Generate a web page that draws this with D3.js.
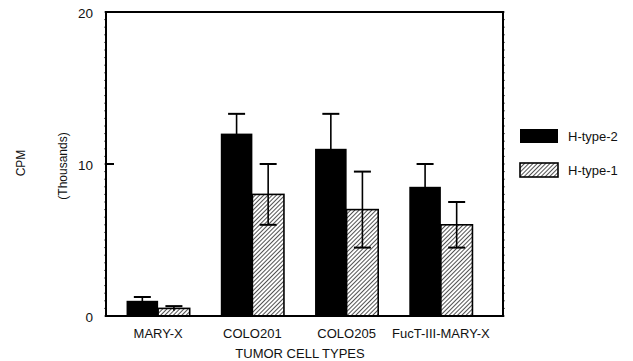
<!DOCTYPE html>
<html>
<head>
<meta charset="utf-8">
<script src="https://cdn.jsdelivr.net/npm/d3@7"></script>
<style>
  body { margin: 0; background: #fff; }
  text { font-family: "Liberation Sans", Arial, sans-serif; fill: #111; }
</style>
</head>
<body>
<svg id="chart" width="633" height="361"></svg>
<script>
const categories = ["MARY-X", "COLO201", "COLO205", "FucT-III-MARY-X"];
const seriesNames = ["H-type-2", "H-type-1"];
const htype2 = [1.0, 12.0, 11.0, 8.5];
const htype2Err = [0.25, 1.3, 2.3, 1.5];
const htype1 = [0.5, 8.0, 7.0, 6.0];
const htype1Err = [0.15, 2.0, 2.5, 1.5];
const yTicks = [0, 10, 20];
const yMinorTicks = d3.range(0, 20.01, 0.5);

const svg = d3.select("#chart");
const pLeft = 106, pRight = 503, pTop = 12, pBottom = 316;

const defs = svg.append("defs");
const pat = defs.append("pattern")
  .attr("id", "hatch").attr("patternUnits", "userSpaceOnUse")
  .attr("width", 3).attr("height", 3)
  .attr("patternTransform", "rotate(45)");
pat.append("rect").attr("width", 3).attr("height", 3).attr("fill", "#fff");
pat.append("line").attr("x1", 0).attr("y1", 0).attr("x2", 0).attr("y2", 3)
  .attr("stroke", "#333").attr("stroke-width", 1.7);

const y = d3.scaleLinear().domain([0, 20]).range([pBottom, pTop]);
const x0 = d3.scaleBand().domain(categories).range([111, 488])
  .paddingInner(0.33).paddingOuter(0.165);
const x1 = d3.scaleBand().domain(seriesNames).range([0, x0.bandwidth()]);

const series = [
  { name: "H-type-2", vals: htype2, errs: htype2Err },
  { name: "H-type-1", vals: htype1, errs: htype1Err }
];

// minor ticks
svg.append("g").selectAll("line").data(yMinorTicks).join("line")
  .attr("x1", pLeft - 2).attr("x2", pLeft).attr("y1", d => y(d)).attr("y2", d => y(d))
  .attr("stroke", "#666").attr("stroke-width", 1);
svg.append("g").selectAll("line").data(yMinorTicks).join("line")
  .attr("x1", pRight).attr("x2", pRight + 2).attr("y1", d => y(d)).attr("y2", d => y(d))
  .attr("stroke", "#666").attr("stroke-width", 1);

// bars
series.forEach(s => {
  const g = svg.append("g");
  g.selectAll("rect").data(categories).join("rect")
    .attr("x", (c) => x0(c) + x1(s.name))
    .attr("y", (c, i) => y(s.vals[i]))
    .attr("width", x1.bandwidth())
    .attr("height", (c, i) => pBottom - y(s.vals[i]))
    .attr("fill", s.name === "H-type-2" ? "#000" : "url(#hatch)")
    .attr("stroke", "#000")
    .attr("stroke-width", s.name === "H-type-2" ? 0 : 1.6);
  categories.forEach((c, i) => {
    const cx = x0(c) + x1(s.name) + x1.bandwidth() / 2;
    const hi = y(s.vals[i] + s.errs[i]);
    const lo = y(Math.max(0, s.vals[i] - s.errs[i]));
    g.append("line").attr("x1", cx).attr("x2", cx).attr("y1", hi).attr("y2", lo)
      .attr("stroke", "#000").attr("stroke-width", 1.6);
    g.append("line").attr("x1", cx - 8.5).attr("x2", cx + 8.5).attr("y1", hi).attr("y2", hi)
      .attr("stroke", "#000").attr("stroke-width", 2);
    if (s.name === "H-type-1" && s.vals[i] - s.errs[i] > 0.5) {
      g.append("line").attr("x1", cx - 8.5).attr("x2", cx + 8.5).attr("y1", lo).attr("y2", lo)
        .attr("stroke", "#000").attr("stroke-width", 2);
    }
  });
});

// frame
svg.append("rect").attr("x", pLeft).attr("y", pTop)
  .attr("width", pRight - pLeft).attr("height", pBottom - pTop)
  .attr("fill", "none").attr("stroke", "#000").attr("stroke-width", 2);

// major tick at 10 (inward)
svg.append("g").selectAll("line").data(yTicks.filter(d => d > 0 && d < 20)).join("line")
  .attr("x1", pLeft).attr("x2", pLeft + 8).attr("y1", d => y(d)).attr("y2", d => y(d))
  .attr("stroke", "#000").attr("stroke-width", 2);

// y tick labels
svg.append("g").selectAll("text").data(yTicks).join("text")
  .attr("x", 93).attr("y", d => y(d) + 6)
  .attr("text-anchor", "end").attr("font-size", 13.5)
  .text(d => d);

// y axis labels
svg.append("text").attr("transform", "translate(25,163) rotate(-90)")
  .attr("text-anchor", "middle").attr("font-size", 12).text("CPM");
svg.append("text").attr("transform", "translate(67,166) rotate(-90)")
  .attr("text-anchor", "middle").attr("font-size", 12).text("(Thousands)");

// x category labels
svg.append("g").selectAll("text").data(categories).join("text")
  .attr("x", c => x0(c) + x0.bandwidth() / 2).attr("y", 338)
  .attr("text-anchor", "middle").attr("font-size", 13)
  .text(c => c);
svg.append("text").attr("x", 300).attr("y", 358)
  .attr("text-anchor", "middle").attr("font-size", 13).text("TUMOR CELL TYPES");

// legend
const leg = svg.append("g");
seriesNames.forEach((n, i) => {
  const ly = 129 + i * 34;
  leg.append("rect").attr("x", 520).attr("y", ly).attr("width", 38).attr("height", 14)
    .attr("fill", i === 0 ? "#000" : "url(#hatch)")
    .attr("stroke", "#000").attr("stroke-width", i === 0 ? 0 : 1.6);
  leg.append("text").attr("x", 568).attr("y", ly + 12)
    .attr("font-size", 13).text(n);
});
</script>
</body>
</html>
